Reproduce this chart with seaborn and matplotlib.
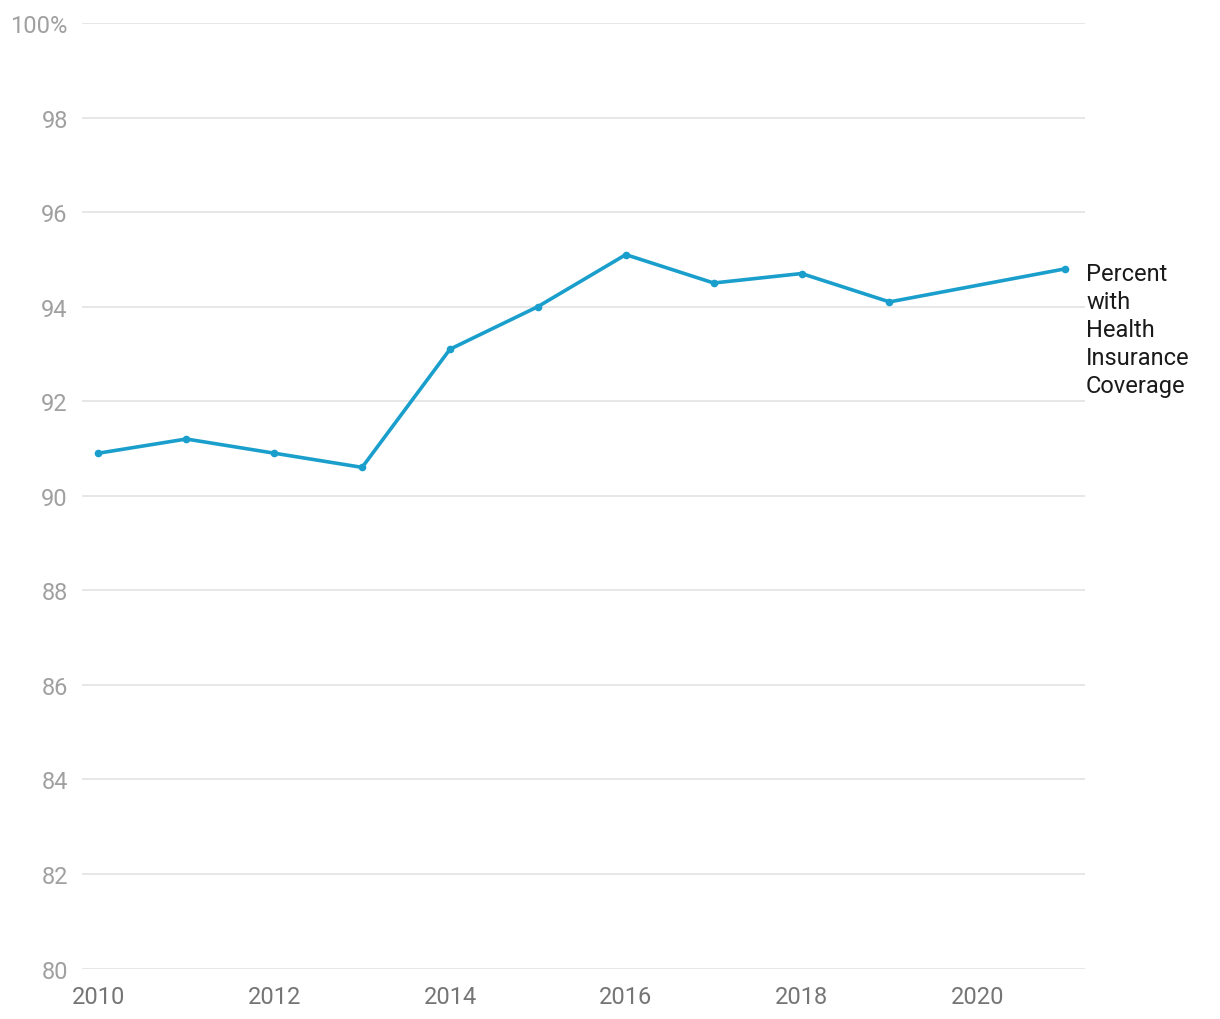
import matplotlib
matplotlib.use("Agg")
import matplotlib.pyplot as plt
import seaborn as sns
import pandas as pd

years = [2010, 2011, 2012, 2013, 2014, 2015, 2016, 2017, 2018, 2019, 2021]
coverage = [90.9, 91.2, 90.9, 90.6, 93.1, 94.0, 95.1, 94.5, 94.7, 94.1, 94.8]
y_ticks = [80, 82, 84, 86, 88, 90, 92, 94, 96, 98, 100]
y_tick_labels = ["80", "82", "84", "86", "88", "90", "92", "94", "96", "98", "100%"]
x_ticks = [2010, 2012, 2014, 2016, 2018, 2020]
series_label = "Percent\nwith\nHealth\nInsurance\nCoverage"

sns.set_theme(style="white")
plt.rcParams['font.family'] = ['Roboto', 'DejaVu Sans']

df = pd.DataFrame({"year": years, "coverage": coverage})

fig = plt.figure(figsize=(12.2, 10.2), dpi=100)
ax = fig.add_axes([0.067, 0.0495, 0.822, 0.927])

color = "#1a9fcc"
sns.lineplot(data=df, x="year", y="coverage", ax=ax, color=color, linewidth=2.6,
             marker="o", markersize=5.5, markeredgewidth=0, markeredgecolor=color)

ax.set_xlim(2009.81, 2021.22)
ax.set_ylim(80, 100)
ax.set_yticks(y_ticks)
ax.set_yticklabels(y_tick_labels)
ax.set_xticks(x_ticks)
ax.set_xticklabels([str(x) for x in x_ticks])
ax.set_xlabel("")
ax.set_ylabel("")

ax.grid(axis="y", color="#e3e3e3", linewidth=1.2)
ax.grid(axis="x", visible=False)
ax.set_axisbelow(True)
for s in ax.spines.values():
    s.set_visible(False)

ax.tick_params(axis="y", length=0, pad=10, labelsize=17, labelcolor="#a0a0a0")
ax.tick_params(axis="x", length=0, pad=12, labelsize=17, labelcolor="#757575")

ax.annotate(series_label, xy=(years[-1], coverage[-1]), xytext=(15, 5),
            textcoords="offset points", ha="left", va="top", fontsize=17,
            color="#1a1a1a", linespacing=1.28, annotation_clip=False)

fig.savefig("out.png", dpi=100)
